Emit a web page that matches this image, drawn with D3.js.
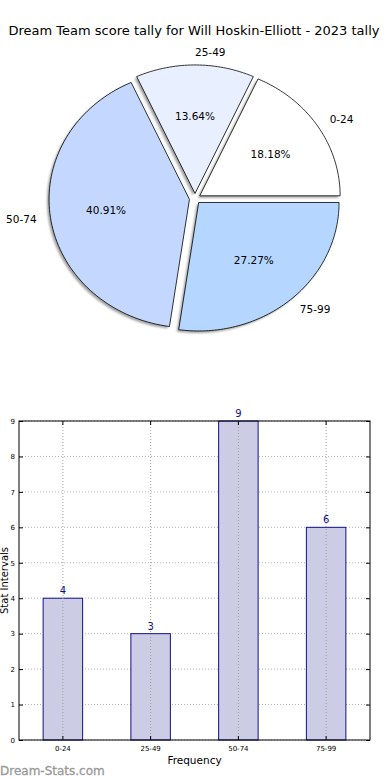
<!DOCTYPE html>
<html><head><meta charset="utf-8">
<script src="https://cdn.jsdelivr.net/npm/d3@7"></script>
<style>body{margin:0;background:#fff}svg{display:block}text{font-family:"DejaVu Sans",sans-serif}</style>
</head><body><svg id="c" width="390" height="780"></svg>
<script>
const categories = ["0-24","25-49","50-74","75-99"];
const counts = [4,3,9,6];
const pieColors = ["#ffffff","#e8f0ff","#c4d8ff","#b4d6ff"];
const yTicks = [0,1,2,3,4,5,6,7,8,9];
const title = "Dream Team score tally for Will Hoskin-Elliott - 2023 tally";

const svg = d3.select("#c");
svg.append("text").attr("x",194).attr("y",35).attr("text-anchor","middle")
  .attr("font-size",13).text(title);

// ---- Pie (elliptical, matplotlib-style, start at east, counter-clockwise)
const cx = 195, cy = 198.6, rx = 140.4, ry = 128.5, expl = 0.04;
const total = d3.sum(counts);
const pie = d3.pie().sort(null).value(d=>d)
  .startAngle(0).endAngle(2*Math.PI)(counts);
const g = svg.append("g");
function slicePath(a0,a1,ox,oy){
  const p = d3.path();
  p.moveTo(ox,oy);
  const n = 80;
  for(let i=0;i<=n;i++){
    const t = a0 + (a1-a0)*i/n;
    p.lineTo(ox + rx*Math.cos(t), oy - ry*Math.sin(t));
  }
  p.closePath();
  return p.toString();
}
const slices = pie.map((s,i)=>{
  const a0 = s.startAngle, a1 = s.endAngle;
  const mid = (a0+a1)/2;
  const ox = cx + expl*rx*Math.cos(mid), oy = cy - expl*ry*Math.sin(mid);
  return {i,a0,a1,mid,ox,oy,frac:s.value/total};
});
const defs = svg.append("defs");
defs.append("filter").attr("id","blur").append("feGaussianBlur").attr("stdDeviation",0.8);
slices.forEach(s=>{
  g.append("path").attr("d",slicePath(s.a0,s.a1,s.ox-2,s.oy+2))
    .attr("fill","#555").attr("opacity",0.55).attr("filter","url(#blur)");
});
slices.forEach(s=>{
  g.append("path").attr("d",slicePath(s.a0,s.a1,s.ox,s.oy))
    .attr("fill",pieColors[s.i]).attr("stroke","#000").attr("stroke-width",0.8)
    .attr("stroke-linejoin","round");
});
slices.forEach(s=>{
  const c = Math.cos(s.mid), sn = Math.sin(s.mid);
  const lx = s.ox + 1.1*rx*c, ly = s.oy - 1.1*ry*sn;
  g.append("text").attr("x",lx).attr("y",ly).attr("dy","0.35em")
    .attr("text-anchor", c>0 ? "start" : "end").attr("font-size",10.5)
    .text(categories[s.i]);
  const px = s.ox + 0.6*rx*c, py = s.oy - 0.6*ry*sn;
  g.append("text").attr("x",px).attr("y",py).attr("dy","0.35em")
    .attr("text-anchor","middle").attr("font-size",10.5)
    .text((s.frac*100).toFixed(2)+"%");
});

// ---- Bar chart
const L = 19, R = 370, T = 421, B = 740;
const x = d3.scaleBand().domain(categories).range([L,R]).paddingInner(0).paddingOuter(0);
const y = d3.scaleLinear().domain([0,9]).range([B,T]);
const bw = x.bandwidth()*0.45;
const bg = svg.append("g");
bg.selectAll(".gy").data(yTicks).join("line")
  .attr("x1",L).attr("x2",R).attr("y1",d=>y(d)).attr("y2",d=>y(d))
  .attr("stroke","#b0b0b0").attr("stroke-width",1).attr("stroke-dasharray","1,2");
bg.selectAll(".bar").data(counts).join("rect")
  .attr("x",(d,i)=>x(categories[i])+x.bandwidth()/2-bw/2)
  .attr("y",d=>y(d)).attr("width",bw).attr("height",d=>B-y(d))
  .attr("fill","#ccccE4").attr("stroke","#10108a").attr("stroke-width",1);
bg.selectAll(".gx").data(categories).join("line")
  .attr("x1",d=>x(d)+x.bandwidth()/2).attr("x2",d=>x(d)+x.bandwidth()/2)
  .attr("y1",T).attr("y2",B)
  .attr("stroke","#a0a0a0").attr("stroke-width",1).attr("stroke-dasharray","1,2");
bg.selectAll(".val").data(counts).join("text")
  .attr("x",(d,i)=>x(categories[i])+x.bandwidth()/2).attr("y",d=>y(d)-4)
  .attr("text-anchor","middle").attr("font-size",10).attr("fill","#10108a")
  .text(d=>d);
bg.append("rect").attr("x",L).attr("y",T).attr("width",R-L).attr("height",B-T)
  .attr("fill","none").attr("stroke","#000").attr("stroke-width",1);
const yAxis = d3.axisLeft(y).tickValues(yTicks).tickSize(-4).tickPadding(4);
bg.append("g").attr("transform",`translate(${L},0)`).call(yAxis)
  .call(a=>{a.select(".domain").remove();a.selectAll("text").attr("font-size",7).attr("font-family","DejaVu Sans");});
const yAxisR = d3.axisRight(y).tickValues(yTicks).tickSize(-4).tickFormat("");
bg.append("g").attr("transform",`translate(${R},0)`).call(yAxisR)
  .call(a=>a.select(".domain").remove());
const xAxis = d3.axisBottom(x).tickSize(-4).tickPadding(6);
bg.append("g").attr("transform",`translate(0,${B})`).call(xAxis)
  .call(a=>{a.select(".domain").remove();a.selectAll("text").attr("font-size",7).attr("font-family","DejaVu Sans");});
const xAxisT = d3.axisTop(x).tickSize(-4).tickFormat("");
bg.append("g").attr("transform",`translate(0,${T})`).call(xAxisT)
  .call(a=>a.select(".domain").remove());

svg.append("text").attr("x",(L+R)/2).attr("y",764).attr("text-anchor","middle")
  .attr("font-size",10.5).text("Frequency");
svg.append("text").attr("transform",`translate(8,${(T+B)/2}) rotate(-90)`)
  .attr("text-anchor","middle").attr("font-size",10).text("Stat Intervals");
svg.append("text").attr("x",0).attr("y",775).attr("font-size",12)
  .attr("fill","#999").attr("stroke","#999").attr("stroke-width",0.3).text("Dream-Stats.com");
</script></body></html>
